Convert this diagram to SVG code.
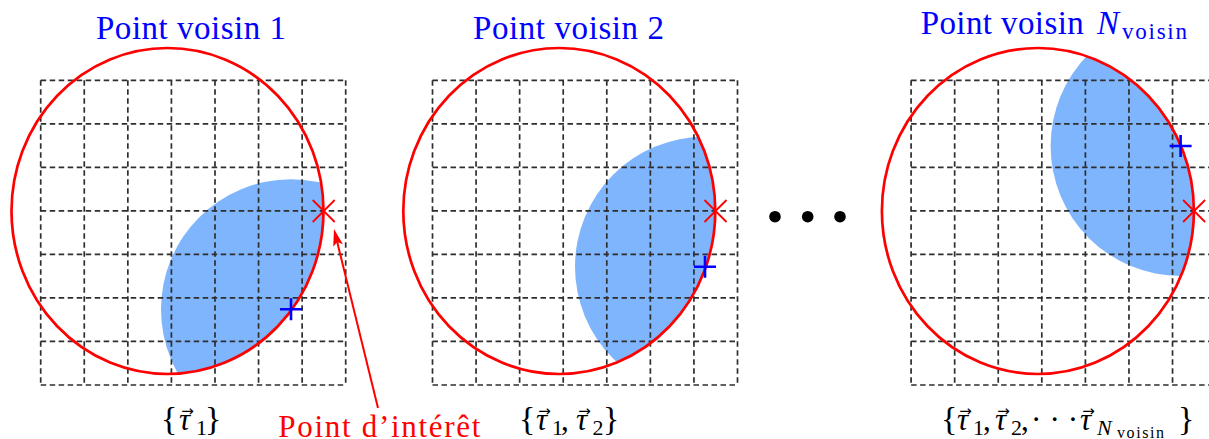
<svg xmlns="http://www.w3.org/2000/svg" xmlns:xlink="http://www.w3.org/1999/xlink" width="1209" height="439" viewBox="0 0 1209 439">
<style>
.grid line{stroke:#2e2e2e;stroke-width:1.7;stroke-dasharray:5.5 3.5;fill:none}
.blue{fill:#7fb5fc;stroke:none}
.ring{fill:none;stroke:#ff0000;stroke-width:2.7}
.cross{fill:none;stroke:#ff0000;stroke-width:1.8}
.plus{fill:none;stroke:#0000ff;stroke-width:2.6}
.t{font-family:"Liberation Serif","DejaVu Serif",serif;font-size:33px;fill:#0000ff}
.m{font-family:"Liberation Serif","DejaVu Serif",serif;font-size:31px;fill:#000}
.i{font-style:italic}
.br{font-size:34px}
.arr{font-family:"DejaVu Sans","Liberation Serif",sans-serif;font-size:15px;fill:#000}
.red{fill:#ff0000}
</style>
<defs>
<clipPath id="clipE" clipPathUnits="userSpaceOnUse"><ellipse cx="126.8" cy="211" rx="156" ry="163"/></clipPath>
<g id="grid" class="grid">
<line x1="0" y1="80.3" x2="0" y2="385"/><line x1="43.57" y1="80.3" x2="43.57" y2="385"/><line x1="87.14" y1="80.3" x2="87.14" y2="385"/><line x1="130.71" y1="80.3" x2="130.71" y2="385"/><line x1="174.29" y1="80.3" x2="174.29" y2="385"/><line x1="217.86" y1="80.3" x2="217.86" y2="385"/><line x1="261.43" y1="80.3" x2="261.43" y2="385"/><line x1="305" y1="80.3" x2="305" y2="385"/>
<line x1="0" y1="80.3" x2="305" y2="80.3"/><line x1="0" y1="123.83" x2="305" y2="123.83"/><line x1="0" y1="167.36" x2="305" y2="167.36"/><line x1="0" y1="210.89" x2="305" y2="210.89"/><line x1="0" y1="254.41" x2="305" y2="254.41"/><line x1="0" y1="297.94" x2="305" y2="297.94"/><line x1="0" y1="341.47" x2="305" y2="341.47"/><line x1="0" y1="385" x2="305" y2="385"/>
</g>
<marker id="ah" markerUnits="userSpaceOnUse" markerWidth="20" markerHeight="12" viewBox="-8 -6 20 12" refX="0" refY="0" orient="auto"><path d="M10,0 L-7,-5 L-3.5,0 L-7,5 Z" fill="#ff0000"/></marker>
</defs>

<g id="panel-1" transform="translate(40.7,0)">
<circle class="blue" cx="250.3" cy="309.3" r="130" clip-path="url(#clipE)"/>
<use xlink:href="#grid" href="#grid"/>
<ellipse class="ring" cx="126.8" cy="211" rx="156" ry="163"/>
<path class="cross" d="M272,200 L294,222 M272,222 L294,200"/>
<path class="plus" d="M239.3,309.3 h22 M250.3,298.3 v22"/>
</g>

<g id="panel-2" transform="translate(432.5,0)">
<circle class="blue" cx="272.5" cy="266.7" r="130" clip-path="url(#clipE)"/>
<use xlink:href="#grid" href="#grid"/>
<ellipse class="ring" cx="126.8" cy="211" rx="156" ry="163"/>
<path class="cross" d="M272,200 L294,222 M272,222 L294,200"/>
<path class="plus" d="M261.5,266.7 h22 M272.5,255.7 v22"/>
</g>

<g id="panel-3" transform="translate(911.1,0)">
<circle class="blue" cx="269.5" cy="146" r="130" clip-path="url(#clipE)"/>
<use xlink:href="#grid" href="#grid"/>
<ellipse class="ring" cx="126.8" cy="211" rx="156" ry="163"/>
<path class="cross" d="M272,200 L294,222 M272,222 L294,200"/>
<path class="plus" d="M258.5,146 h22 M269.5,135 v22"/>
</g>

<g id="dots">
<circle cx="775" cy="216.7" r="5.8" fill="#000"/>
<circle cx="807.7" cy="216.7" r="5.8" fill="#000"/>
<circle cx="840" cy="216.7" r="5.8" fill="#000"/>
</g>

<g id="title-1"><text class="t" x="96" y="39" textLength="190" lengthAdjust="spacing">Point voisin 1</text></g>
<g id="title-2"><text class="t" x="473" y="39" textLength="191" lengthAdjust="spacing">Point voisin 2</text></g>
<g id="title-3">
<text class="t" x="920.7" y="34.3" textLength="163" lengthAdjust="spacing">Point voisin</text>
<text class="t i" x="1097" y="34.3">N</text>
<text class="t" x="1122" y="39.3" style="font-size:23px" textLength="65" lengthAdjust="spacing">voisin</text>
</g>

<g id="label-1">
<text class="m" y="429.5"><tspan class="br" x="161">{</tspan><tspan class="i" x="179">τ</tspan><tspan x="196" y="435" style="font-size:22px">1</tspan><tspan class="br" x="205" y="429.5">}</tspan></text>
<text class="arr" x="187.5" y="416" text-anchor="middle">→</text>
</g>

<g id="label-2">
<text class="m" y="429.5"><tspan class="br" x="519">{</tspan><tspan class="i" x="536">τ</tspan><tspan x="552" y="435" style="font-size:22px">1</tspan><tspan x="561" y="429.5">,</tspan><tspan class="i" x="576">τ</tspan><tspan x="592.5" y="435" style="font-size:22px">2</tspan><tspan class="br" x="603" y="429.5">}</tspan></text>
<text class="arr" x="544.5" y="416" text-anchor="middle">→</text>
<text class="arr" x="584.5" y="416" text-anchor="middle">→</text>
</g>

<g id="label-3">
<text class="m" y="429.5"><tspan class="br" x="941">{</tspan><tspan class="i" x="957">τ</tspan><tspan x="973" y="435" style="font-size:22px">1</tspan><tspan x="983" y="429.5">,</tspan><tspan class="i" x="995">τ</tspan><tspan x="1011" y="435" style="font-size:22px">2</tspan><tspan x="1021" y="429.5">,</tspan><tspan x="1031 1049.4 1067.8">···</tspan><tspan class="i" x="1080">τ</tspan><tspan class="i" x="1097" y="434.5" style="font-size:22px">N</tspan><tspan x="1117" y="437.5" style="font-size:16px" textLength="47" lengthAdjust="spacing">voisin</tspan><tspan class="br" x="1178" y="429.5">}</tspan></text>
<text class="arr" x="965.5" y="416" text-anchor="middle">→</text>
<text class="arr" x="1003.5" y="416" text-anchor="middle">→</text>
<text class="arr" x="1088.5" y="416" text-anchor="middle">→</text>
</g>

<g id="label-interet"><text class="m red" x="278.3" y="436.5" textLength="202" lengthAdjust="spacing">Point d’intérêt</text></g>

<g id="connectors">
<line x1="378" y1="408" x2="336.4" y2="238.7" stroke="#ff0000" stroke-width="2" marker-end="url(#ah)"/>
</g>
</svg>
